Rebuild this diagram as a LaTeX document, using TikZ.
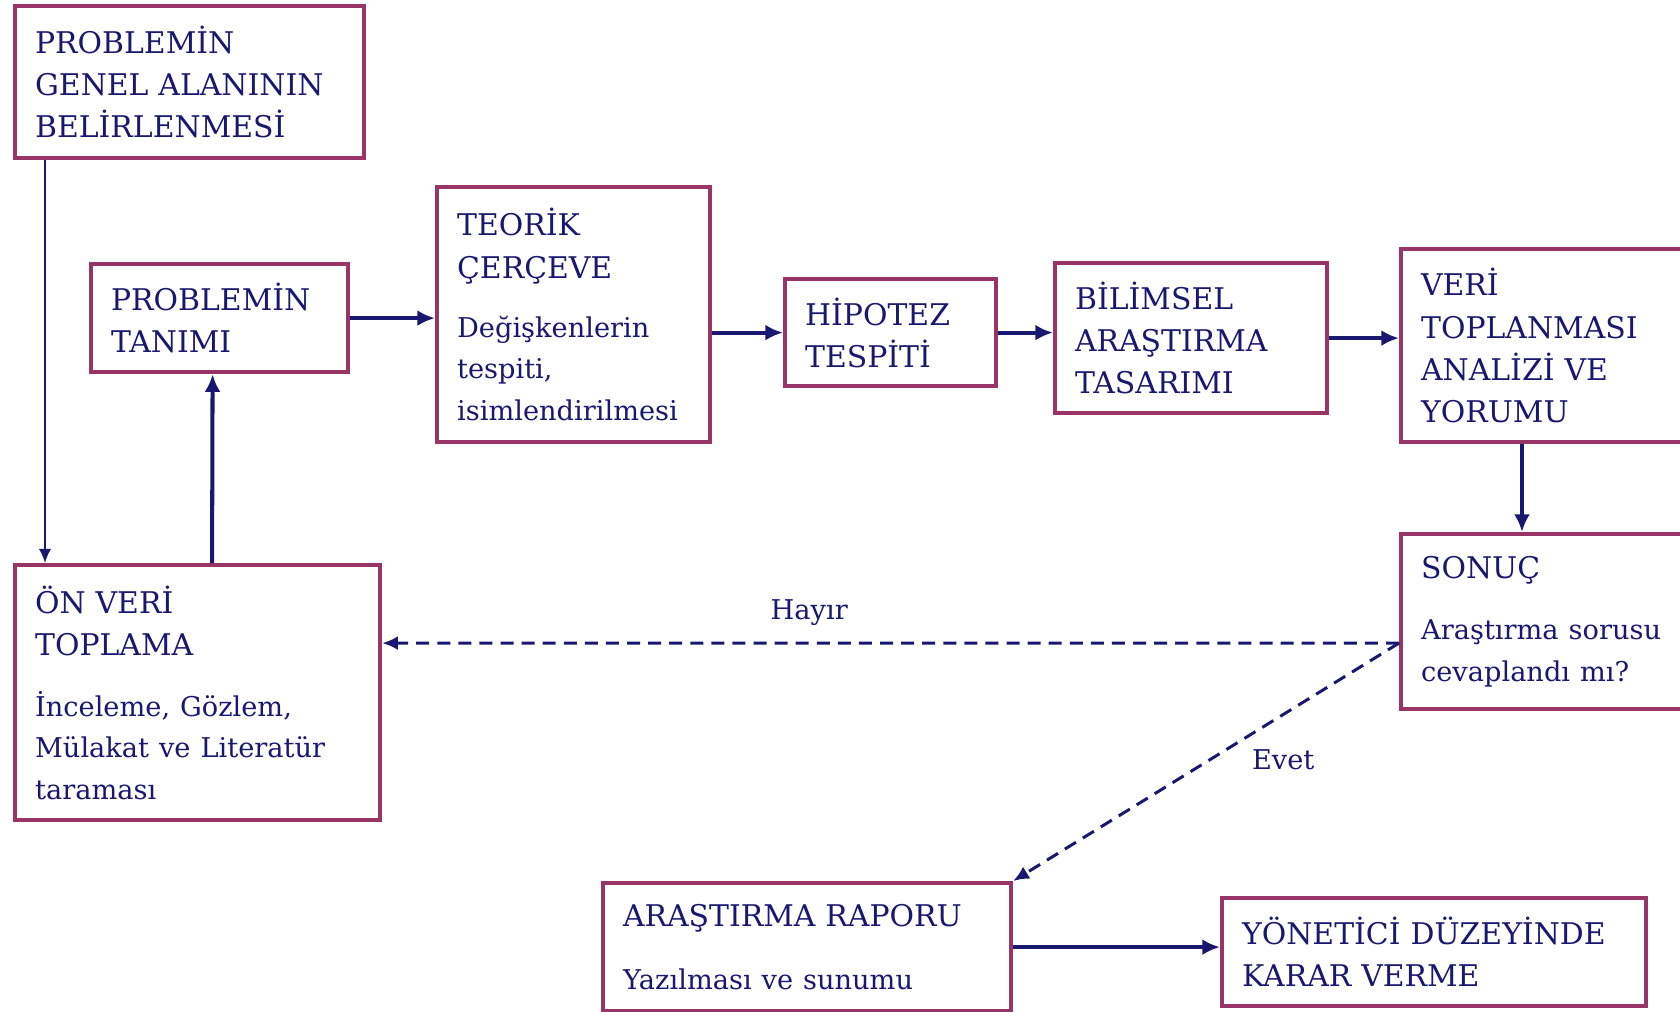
\documentclass[tikz,border=0pt]{standalone}
\usepackage{fontspec}
\setmainfont{DejaVu Serif}
\usetikzlibrary{arrows.meta}

\definecolor{lacivert}{RGB}{24,24,112}
\definecolor{bordo}{RGB}{152,52,102}
\newcommand{\kucuk}{\fontsize{15.5}{23}\selectfont}
\tikzset{
  kutu/.style={draw=bordo, line width=2.4pt, text=lacivert, align=left,
    anchor=north west, inner xsep=0.4cm, inner ysep=0pt,
    font=\fontsize{17}{24}\selectfont},
  ok/.style={draw=lacivert, line width=2.3pt, -{Latex[length=10pt,width=9pt]}},
  inceok/.style={draw=lacivert, line width=1.1pt, -{Latex[length=8pt,width=7pt]}},
  kesikok/.style={draw=lacivert, line width=1.7pt, dash pattern=on 7.4pt off 4.6pt,
    -{Latex[length=9pt,width=8pt]}},
  etiket/.style={text=lacivert, font=\kucuk}
}

\begin{document}
\begin{tikzpicture}[x=0.02cm,y=-0.02cm]
  %\draw[help lines,step=100] (0,0) grid (1680,1011);
  \clip (0,0) rectangle (1680,1011);
  \useasboundingbox (0,0) rectangle (1680,1011);

  % ust sira
  \node[kutu, text width=6.18cm, minimum height=3.04cm] (genel) at (13,4)
    {PROBLEMİN\\GENEL ALANININ\\BELİRLENMESİ};
  \node[kutu, text width=4.34cm, minimum height=2.16cm] (tanim) at (89,262)
    {PROBLEMİN\\TANIMI};
  \node[kutu, text width=4.66cm, minimum height=5.1cm] (teorik) at (435,185)
    {TEORİK\\ÇERÇEVE\\[11pt]{\kucuk Değişkenlerin\\tespiti,\\isimlendirilmesi}};
  \node[kutu, text width=3.42cm, minimum height=2.14cm] (hipotez) at (783,277)
    {HİPOTEZ\\TESPİTİ};
  \node[kutu, text width=4.64cm, minimum height=3.0cm] (tasarim) at (1053,261)
    {BİLİMSEL\\ARAŞTIRMA\\TASARIMI};
  \node[kutu, text width=5.2cm, minimum height=3.86cm] (veri) at (1399,247)
    {VERİ\\TOPLANMASI\\ANALİZİ VE\\YORUMU};
  \node[kutu, text width=5.2cm, minimum height=3.5cm] (sonuc) at (1399,532)
    {SONUÇ\\[12pt]{\kucuk Araştırma sorusu\\cevaplandı mı?}};

  % alt sira
  \node[kutu, text width=6.5cm, minimum height=5.1cm] (onveri) at (13,563)
    {ÖN VERİ\\TOPLAMA\\[12pt]{\kucuk İnceleme, Gözlem,\\Mülakat ve Literatür\\taraması}};
  \node[kutu, text width=7.36cm, minimum height=2.56cm] (rapor) at (601,881)
    {ARAŞTIRMA RAPORU\\[12pt]{\kucuk Yazılması ve sunumu}};
  \node[kutu, text width=7.68cm, minimum height=2.16cm] (karar) at (1220,896)
    {YÖNETİCİ DÜZEYİNDE\\KARAR VERME};

  % oklar
  \draw[inceok] ([xshift=0.64cm]genel.south west) -- ([xshift=0.64cm]onveri.north west);
  \draw[ok] ([xshift=0.29cm]onveri.north) -- ([xshift=-0.14cm]tanim.south);
  \draw[ok] (tanim.east) -- (tanim.east -| teorik.west);
  \draw[ok] (hipotez.west -| teorik.east) -- (hipotez.west);
  \draw[ok] (hipotez.east) -- (hipotez.east -| tasarim.west);
  \draw[ok] (tasarim.east) -- (tasarim.east -| veri.west);
  \draw[ok] ([xshift=2.46cm]veri.south west) -- ([xshift=2.46cm]sonuc.north west);
  \draw[kesikok] ([yshift=-0.43cm]sonuc.west) -- ([yshift=0.99cm]onveri.east)
    node[etiket, pos=0.58, above=0.2cm] {Hayır};
  \draw[kesikok] ([yshift=-0.43cm]sonuc.west) -- (rapor.north east)
    node[etiket, pos=0.3, below=0.55cm] {Evet};
  \draw[ok] (rapor.east) -- (rapor.east -| karar.west);
\end{tikzpicture}
\end{document}
